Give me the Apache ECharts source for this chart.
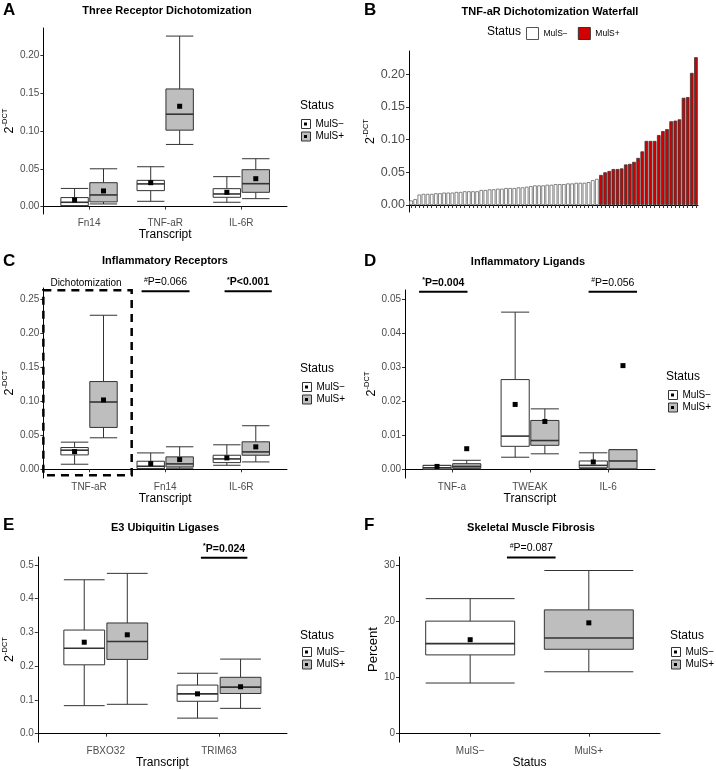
<!DOCTYPE html>
<html>
<head>
<meta charset="utf-8">
<script src="https://cdn.jsdelivr.net/npm/echarts@6/dist/echarts.min.js"></script>
<style>
html, body { margin: 0; background: #fff; }
#chart { width: 716px; height: 770px; }
</style>
</head>
<body>
<div id="chart"></div>
<script>
// A - three receptor dichotomization  [min, q1, median, q3, max]
var catsA = ['Fn14', 'TNF-aR', 'IL-6R'];
var boxNegA = [[0.001, 0.0013, 0.0057, 0.0119, 0.024], [0.007, 0.0211, 0.030, 0.0347, 0.0527], [0.0057, 0.0123, 0.0167, 0.0237, 0.0396]];
var meanNegA = [0.0088, 0.0316, 0.0189];
var boxPosA = [[0.0035, 0.0062, 0.0154, 0.0316, 0.050], [0.0822, 0.1011, 0.1222, 0.1556, 0.2255], [0.0105, 0.0189, 0.0303, 0.0488, 0.0633]];
var meanPosA = [0.0207, 0.1327, 0.0369];

// B - waterfall
var waterNeg = [0.007, 0.009, 0.016, 0.017, 0.017, 0.017, 0.018, 0.018, 0.019, 0.019,
  0.019, 0.020, 0.020, 0.021, 0.021, 0.021, 0.021, 0.023, 0.023, 0.024,
  0.024, 0.025, 0.025, 0.026, 0.026, 0.026, 0.027, 0.027, 0.028, 0.029,
  0.030, 0.030, 0.030, 0.031, 0.031, 0.032, 0.032, 0.032, 0.033, 0.033,
  0.034, 0.034, 0.034, 0.035, 0.038, 0.040];
var waterPos = [0.046, 0.050, 0.052, 0.055, 0.055, 0.056, 0.062, 0.063, 0.066, 0.072,
  0.082, 0.098, 0.098, 0.098, 0.107, 0.113, 0.116, 0.128, 0.129, 0.131,
  0.164, 0.165, 0.202, 0.226];

// C - inflammatory receptors
var catsC = ['TNF-aR', 'Fn14', 'IL-6R'];
var boxNegC = [[0.0074, 0.0211, 0.028, 0.0319, 0.0398], [0.001, 0.001, 0.0044, 0.0118, 0.024], [0.0059, 0.0098, 0.0152, 0.0206, 0.0359]];
var meanNegC = [0.026, 0.0083, 0.0167];
var boxPosC = [[0.0462, 0.0614, 0.0987, 0.1287, 0.226], [0.0015, 0.0034, 0.0079, 0.0182, 0.033], [0.0108, 0.0206, 0.0255, 0.0403, 0.0639]];
var meanPosC = [0.1017, 0.0142, 0.0329];
var annotC = [[1.69, 2.32, 0.2612], [2.78, 3.40, 0.2612]];
var labelsC = ['#P=0.066', '*P<0.001'];
var boldC = [false, true];
var dichotC = [[0.4, 1.56, -0.0088, 0.2626, 0.96, 0.2736]];
var dichotLabel = ['Dichotomization'];

// D - inflammatory ligands
var catsD = ['TNF-a', 'TWEAK', 'IL-6'];
var boxNegD = [[0.0001, 0.0001, 0.0005, 0.0012, 0.0012], [0.0036, 0.0068, 0.0098, 0.0264, 0.0462], [0.0003, 0.0005, 0.0012, 0.0025, 0.0049]];
var meanNegD = [0.0009, 0.0191, 0.0022];
var boxPosD = [[0.0002, 0.0004, 0.0009, 0.0017, 0.0027], [0.0046, 0.0071, 0.0085, 0.0144, 0.0178], [0.0002, 0.0002, 0.0025, 0.0058, 0.0058]];
var meanPosD = [0.0061, 0.0141, 0.0305];
var annotD = [[0.58, 1.20, 0.0522], [2.75, 3.37, 0.0522]];
var labelsD = ['*P=0.004', '#P=0.056'];
var boldD = [true, false];

// E - E3 ubiquitin ligases
var catsE = ['FBXO32', 'TRIM63'];
var boxNegE = [[0.083, 0.204, 0.253, 0.307, 0.456], [0.046, 0.096, 0.118, 0.144, 0.179]];
var meanNegE = [0.271, 0.118];
var boxPosE = [[0.087, 0.220, 0.273, 0.328, 0.475], [0.075, 0.119, 0.138, 0.167, 0.221]];
var meanPosE = [0.293, 0.139];
var annotE = [[1.84, 2.25, 0.5215]];
var labelsE = ['*P=0.024'];
var boldE = [true];

// F - skeletal muscle fibrosis
var catsF = ['MulS−', 'MulS+'];
var boxF = [[9, 14, 16, 20, 24], [11, 15, 17, 22, 29]];
var meanF = [16.7, 19.7];
var annotF = [[1.31, 1.72, 31.3]];
var labelsF = ['#P=0.087'];
var boldF = [false];

var FONT = 'Liberation Sans, Arial, sans-serif';
var chart = echarts.init(document.getElementById('chart'));

function rows(boxes, means, start) {
  return boxes.map(function (b, i) { return [i + (start || 1)].concat(b, [means[i]]); });
}

function makeBox(offset, width, fill) {
  return function (params, api) {
    var x = api.value(0) + offset;
    var l = api.coord([x - width / 2, 0])[0];
    var r = api.coord([x + width / 2, 0])[0];
    var c = api.coord([x, 0])[0];
    var y = [1, 2, 3, 4, 5, 6].map(function (d) { return api.coord([x, api.value(d)])[1]; });
    var ln = function (x1, y1, x2, y2, w) {
      return { type: 'line', shape: { x1: x1, y1: y1, x2: x2, y2: y2 }, style: { stroke: '#333', lineWidth: w || 1 } };
    };
    return {
      type: 'group',
      children: [
        ln(c, y[0], c, y[1]), ln(c, y[3], c, y[4]),
        ln(l, y[0], r, y[0]), ln(l, y[4], r, y[4]),
        { type: 'rect', shape: { x: l, y: y[3], width: r - l, height: y[1] - y[3] }, style: { fill: fill, stroke: '#333', lineWidth: 1 } },
        ln(l, y[2], r, y[2], 1.6),
        { type: 'rect', shape: { x: c - 2.5, y: y[5] - 2.5, width: 5, height: 5 }, style: { fill: '#000' } }
      ]
    };
  };
}

function richText(lbl) { return '{s|' + lbl.charAt(0) + '}{t|' + lbl.slice(1) + '}'; }

function makeAnnot(labels, bold) {
  return function (params, api) {
    var i = params.dataIndex;
    var a = api.coord([api.value(0), api.value(2)]);
    var b = api.coord([api.value(1), api.value(2)]);
    var w = bold[i] ? 'bold' : 'normal';
    return {
      type: 'group',
      children: [
        { type: 'line', shape: { x1: a[0], y1: a[1], x2: b[0], y2: a[1] }, style: { stroke: '#000', lineWidth: 2 } },
        { type: 'text', style: {
          x: (a[0] + b[0]) / 2, y: a[1] - 3, text: richText(labels[i]), align: 'center', verticalAlign: 'bottom',
          fontFamily: FONT,
          rich: {
            s: { fontSize: 7, lineHeight: 7, verticalAlign: 'top', fontWeight: w, fontFamily: FONT, fill: '#000' },
            t: { fontSize: 10.5, lineHeight: 12, fontWeight: w, fontFamily: FONT, fill: '#000' }
          }
        } }
      ]
    };
  };
}

function renderDichot(params, api) {
  var p1 = api.coord([api.value(0), api.value(3)]);
  var p2 = api.coord([api.value(1), api.value(2)]);
  var t = api.coord([api.value(4), api.value(5)]);
  return {
    type: 'group',
    children: [
      { type: 'rect', shape: { x: p1[0], y: p1[1], width: p2[0] - p1[0], height: p2[1] - p1[1] },
        style: { fill: 'none', stroke: '#000', lineWidth: 2.5, lineDash: [8, 6] } },
      { type: 'text', style: { x: t[0], y: t[1], text: dichotLabel[params.dataIndex], align: 'center', verticalAlign: 'middle',
        fontSize: 10, fontFamily: FONT, fill: '#000' } }
    ]
  };
}

var yName = '{b|2}{s|-DCT}';
var yRich = {
  b: { fontSize: 12.5, lineHeight: 15, verticalAlign: 'bottom', color: '#000', fontFamily: FONT },
  s: { fontSize: 7.5, lineHeight: 8, verticalAlign: 'top', color: '#000', fontFamily: FONT }
};

function yAx(gi, min, max, ticks, dec, gap, fs, name) {
  return {
    gridIndex: gi, type: 'value', min: min, max: max,
    axisLine: { show: true, lineStyle: { color: '#000', width: 1 } },
    axisTick: { show: true, length: 3, customValues: ticks, lineStyle: { color: '#333' } },
    axisLabel: { customValues: ticks, color: '#4d4d4d', fontSize: fs, margin: 4,
      formatter: function (v) { return v.toFixed(dec); } },
    splitLine: { show: false },
    name: name || yName, nameLocation: 'middle', nameGap: gap, nameRotate: 90,
    nameTextStyle: name ? { fontSize: 13, color: '#000' } : { rich: yRich }
  };
}

function xAx(gi, cats, name, gap) {
  var vals = cats.map(function (c, i) { return i + 1; });
  return {
    gridIndex: gi, type: 'value', min: 0.4, max: cats.length + 0.6,
    axisLine: { show: true, lineStyle: { color: '#000', width: 1 } },
    axisTick: { show: true, length: 3, customValues: vals, lineStyle: { color: '#333' } },
    axisLabel: { customValues: vals, color: '#4d4d4d', fontSize: 10, margin: 4,
      formatter: function (v) { return cats[Math.round(v) - 1]; } },
    splitLine: { show: false },
    name: name, nameLocation: 'middle', nameGap: gap,
    nameTextStyle: { fontSize: 12, color: '#000' }
  };
}

function boxSeries(gi, name, data, offset, width, fill) {
  return {
    type: 'custom', name: name, xAxisIndex: gi, yAxisIndex: gi, clip: false,
    renderItem: makeBox(offset, width, fill),
    encode: { x: 0, y: [1, 2, 3, 4, 5, 6] },
    data: data
  };
}

function annotSeries(gi, data, labels, bold) {
  return {
    type: 'custom', name: 'annot' + gi, xAxisIndex: gi, yAxisIndex: gi, clip: false, z: 5,
    renderItem: makeAnnot(labels, bold),
    encode: { x: [0, 1], y: 2 },
    data: data
  };
}

function boxLegend(left, top) {
  return [{
    left: left, top: top, padding: 0, orient: 'vertical', icon: 'rect', itemWidth: 9, itemHeight: 9, itemGap: 2.5,
    selectedMode: false,
    textStyle: { fontSize: 10, lineHeight: 10, color: '#000', fontFamily: FONT },
    itemStyle: { borderColor: '#333', borderWidth: 1 },
    data: [{ name: 'MulS−', itemStyle: { color: '#fff' } }, { name: 'MulS+', itemStyle: { color: '#bebebe' } }]
  }, {
    left: left + 3, top: top, padding: 0, orient: 'vertical', icon: 'rect', itemWidth: 3, itemHeight: 3, itemGap: 2.5,
    selectedMode: false,
    textStyle: { fontSize: 10, lineHeight: 10, color: 'rgba(0,0,0,0)', fontFamily: FONT },
    itemStyle: { borderWidth: 0 },
    data: [{ name: 'MulS−', itemStyle: { color: '#000' } }, { name: 'MulS+', itemStyle: { color: '#000' } }]
  }];
}

function ttl(text, left, top, size, bold, align) {
  return { text: text, left: left, top: top, textAlign: align || 'left', padding: 0,
    textStyle: { fontSize: size, fontWeight: bold ? 'bold' : 'normal', color: '#000', fontFamily: FONT } };
}

var sampleIds = waterNeg.concat(waterPos).map(function (v, i) { return String(i + 1); });
var barNeg = waterNeg.concat(waterPos.map(function () { return null; }));
var barPos = waterNeg.map(function () { return null; }).concat(waterPos);

var OFF = 0.19, W = 0.36;

var option = {
  animation: false,
  backgroundColor: '#fff',
  textStyle: { fontFamily: FONT },
  title: [
    ttl('A', 3, 2, 17, true), ttl('B', 364, 2, 17, true), ttl('C', 3, 253, 17, true),
    ttl('D', 364, 253, 17, true), ttl('E', 3, 517, 17, true), ttl('F', 364, 517, 17, true),
    ttl('Three Receptor Dichotomization', 167, 5, 11, true, 'center'),
    ttl('TNF-aR Dichotomization Waterfall', 550, 6, 11, true, 'center'),
    ttl('Inflammatory Receptors', 165, 255, 11, true, 'center'),
    ttl('Inflammatory Ligands', 528, 256, 11, true, 'center'),
    ttl('E3 Ubiquitin Ligases', 165, 522, 11, true, 'center'),
    ttl('Skeletal Muscle Fibrosis', 531, 522, 11, true, 'center'),
    ttl('Status', 300, 100, 12, false), ttl('Status', 487, 26, 12, false),
    ttl('Status', 300, 363, 12, false), ttl('Status', 666, 371, 12, false),
    ttl('Status', 300, 630, 12, false), ttl('Status', 670, 630, 12, false)
  ],
  legend: [].concat(
    boxLegend(301, 119), boxLegend(302, 382), boxLegend(668, 390),
    boxLegend(302, 647), boxLegend(671, 647),
    [{
      left: 526, top: 27, padding: 0, orient: 'horizontal', icon: 'rect', itemWidth: 12, itemHeight: 12, itemGap: 10,
      selectedMode: false,
      textStyle: { fontSize: 8.5, color: '#000', fontFamily: FONT },
      itemStyle: { borderColor: '#333', borderWidth: 1 },
      data: [{ name: 'MulS−', itemStyle: { color: '#fff', borderColor: '#555' } },
             { name: 'MulS+', itemStyle: { color: '#d20000' } }]
    }]
  ),
  grid: [
    { left: 39, top: 28, width: 248, height: 186 },
    { left: 409, top: 51, width: 289, height: 161 },
    { left: 39, top: 288, width: 248, height: 190 },
    { left: 405, top: 290, width: 250, height: 188 },
    { left: 35, top: 557, width: 252, height: 186 },
    { left: 399, top: 557, width: 261, height: 186 }
  ],
  xAxis: [
    xAx(0, catsA, 'Transcript', 13),
    {
      gridIndex: 1, type: 'category', data: sampleIds, boundaryGap: true,
      axisLine: { show: true, lineStyle: { color: '#000' } },
      axisTick: { show: true, interval: 0, alignWithLabel: true, length: 3, lineStyle: { color: '#333' } },
      axisLabel: { show: false }, splitLine: { show: false }
    },
    xAx(2, catsC, 'Transcript', 13),
    xAx(3, catsD, 'Transcript', 13),
    xAx(4, catsE, 'Transcript', 13),
    xAx(5, catsF, 'Status', 13)
  ],
  yAxis: [
    yAx(0, -0.0098, 0.2362, [0, 0.05, 0.10, 0.15, 0.20], 2, 21, 10),
    yAx(1, -0.0107, 0.2355, [0, 0.05, 0.10, 0.15, 0.20], 2, 28, 12.5),
    yAx(2, -0.0128, 0.266, [0, 0.05, 0.10, 0.15, 0.20, 0.25], 2, 21, 10),
    yAx(3, -0.0025, 0.0527, [0, 0.01, 0.02, 0.03, 0.04, 0.05], 2, 26, 10),
    yAx(4, -0.025, 0.5235, [0, 0.1, 0.2, 0.3, 0.4, 0.5], 1, 17, 10),
    yAx(5, -1.5, 31.4, [0, 10, 20, 30], 0, 15, 10, 'Percent')
  ],
  series: [
    boxSeries(0, 'MulS−', rows(boxNegA, meanNegA), -OFF, W, '#fff'),
    boxSeries(0, 'MulS+', rows(boxPosA, meanPosA), OFF, W, '#bebebe'),
    {
      type: 'bar', name: 'MulS−', xAxisIndex: 1, yAxisIndex: 1, stack: 'w', barCategoryGap: '12%',
      itemStyle: { color: '#fff', borderColor: '#666', borderWidth: 0.8 }, data: barNeg
    },
    {
      type: 'bar', name: 'MulS+', xAxisIndex: 1, yAxisIndex: 1, stack: 'w', barCategoryGap: '12%',
      itemStyle: { color: '#d20000', borderColor: '#333', borderWidth: 0.8 }, data: barPos
    },
    boxSeries(2, 'MulS−', rows(boxNegC, meanNegC), -OFF, W, '#fff'),
    boxSeries(2, 'MulS+', rows(boxPosC, meanPosC), OFF, W, '#bebebe'),
    annotSeries(2, annotC, labelsC, boldC),
    {
      type: 'custom', name: 'dichot', xAxisIndex: 2, yAxisIndex: 2, clip: false, z: 6,
      renderItem: renderDichot, encode: { x: [0, 1], y: [2, 3] }, data: dichotC
    },
    boxSeries(3, 'MulS−', rows(boxNegD, meanNegD), -OFF, W, '#fff'),
    boxSeries(3, 'MulS+', rows(boxPosD, meanPosD), OFF, W, '#bebebe'),
    annotSeries(3, annotD, labelsD, boldD),
    boxSeries(4, 'MulS−', rows(boxNegE, meanNegE), -OFF, W, '#fff'),
    boxSeries(4, 'MulS+', rows(boxPosE, meanPosE), OFF, W, '#bebebe'),
    annotSeries(4, annotE, labelsE, boldE),
    boxSeries(5, 'MulS−', rows([boxF[0]], [meanF[0]], 1), 0, 0.75, '#fff'),
    boxSeries(5, 'MulS+', rows([boxF[1]], [meanF[1]], 2), 0, 0.75, '#bebebe'),
    annotSeries(5, annotF, labelsF, boldF)
  ]
};

chart.setOption(option);
</script>
</body>
</html>
